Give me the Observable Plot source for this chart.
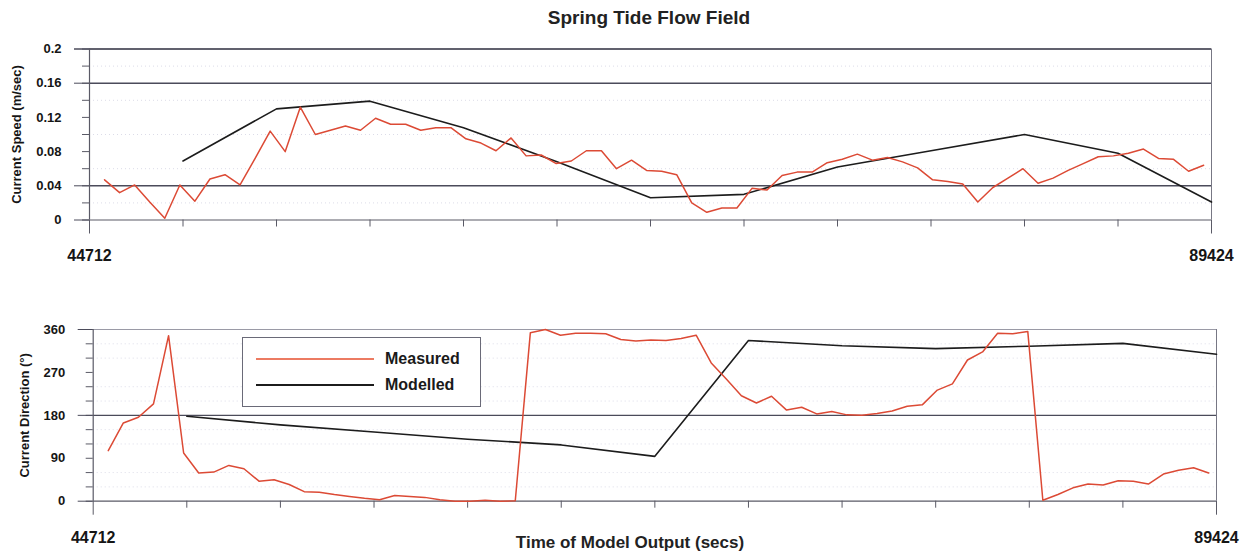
<!DOCTYPE html>
<html>
<head>
<meta charset="utf-8">
<script src="https://cdn.jsdelivr.net/npm/d3@7"></script>
<script src="https://cdn.jsdelivr.net/npm/@observablehq/plot@0.6"></script>
<style>
  body { margin: 0; background: #fff; font-family: "Liberation Sans", Arial, sans-serif; }
  #root { position: relative; width: 1251px; height: 556px; overflow: hidden; background: #fff; }
  .abs { position: absolute; }
  #title { left: 449px; width: 400px; top: 7px; text-align: center; font-weight: bold; font-size: 19px; line-height: 22px; color: #222; }
  #xtitle { left: 430px; width: 400px; top: 533px; text-align: center; font-weight: bold; font-size: 17px; line-height: 20px; color: #222; }
  #legend { left: 242px; top: 337px; width: 237px; height: 68px; border: 1px solid #6a6a78; background: #fff; }
  .lg-line { position: absolute; left: 13px; width: 118px; height: 0; }
  .lg-text { position: absolute; left: 142px; font-weight: bold; font-size: 16px; line-height: 18px; color: #1a1a1a; }
</style>
</head>
<body>
<div id="root">
  <div id="title" class="abs"></div>
  <div id="top" class="abs" style="left:0;top:30px;"></div>
  <div id="bottom" class="abs" style="left:0;top:310px;"></div>
  <div id="legend" class="abs"></div>
  <div id="xtitle" class="abs"></div>
</div>
<script>
// ---------- Text ----------
const chartTitle = "Spring Tide Flow Field";
const speedLabel = "Current Speed (m/sec)";
const directionLabel = "Current Direction (°)";
const timeLabel = "Time of Model Output (secs)";
const seriesNames = ["Measured", "Modelled"];
const seriesColors = ["#dc4a35", "#1c1c1c"];

// ---------- Time axis ----------
const timeStart = 44712;
const timeEnd = 89424;
const modelStep = 3726;     // model output interval (s)
const measuredStep = 600;   // measurement interval (s)
const timeTickLabels = [44712, 89424];

// ---------- Tick values ----------
const speedTickLabels = [0, 0.04, 0.08, 0.12, 0.16, 0.2];
const speedMinorTicks = [0.02, 0.06, 0.1, 0.14, 0.18];
const speedGrid = [0.04, 0.16, 0.2];
const directionTickLabels = [0, 90, 180, 270, 360];
const directionMinorTicks = [30, 60, 120, 150, 210, 240, 300, 330];
const directionGrid = [180];

// ---------- Data: measured (every 600 s, from 45312 s) ----------
const measuredSpeed = [
  0.047, 0.032, 0.041, 0.021, 0.002, 0.041, 0.022, 0.048, 0.053, 0.041,
  0.072, 0.104, 0.080, 0.132, 0.100, 0.105, 0.110, 0.105, 0.119, 0.112,
  0.112, 0.105, 0.108, 0.108, 0.095, 0.090, 0.081, 0.096, 0.075, 0.076,
  0.066, 0.069, 0.081, 0.081, 0.060, 0.070, 0.058, 0.057, 0.053, 0.020,
  0.009, 0.014, 0.014, 0.037, 0.035, 0.052, 0.056, 0.056, 0.067, 0.071,
  0.077, 0.070, 0.073, 0.068, 0.061, 0.047, 0.045, 0.042, 0.021, 0.038,
  0.049, 0.060, 0.043, 0.049, 0.058, 0.066, 0.074, 0.075, 0.078, 0.083,
  0.072, 0.071, 0.057, 0.064
];
const measuredDirection = [
  106, 164, 176, 204, 347, 101, 59, 61, 75, 68,
  42, 45, 35, 20, 19, 14, 10, 6, 3, 12,
  10, 8, 3, 0, 0, 2, 0, 1, 353, 360,
  348, 352, 352, 351, 339, 336, 338, 337, 341, 348,
  290, 256, 221, 206, 220, 191, 197, 183, 188, 181,
  180, 184, 189, 199, 202, 233, 246, 296, 313, 352,
  351, 356, 2, 14, 28, 36, 34, 43, 42, 36,
  57, 65, 70, 59
];

// ---------- Data: modelled (every 3726 s, from 48438 s) ----------
const modelledSpeed = [0.069, 0.130, 0.139, 0.108, 0.068, 0.026, 0.030, 0.062, 0.081, 0.100, 0.078, 0.021];
const modelledDirection = [178, 160, 145, 130, 118, 94, 337, 326, 320, 325, 331, 308];

// ---------- Build tables ----------
const measuredSpeedRows = measuredSpeed.map((v, i) => ({t: timeStart + (i + 1) * measuredStep, v}));
const measuredDirRows = measuredDirection.map((v, i) => ({t: timeStart + (i + 1) * measuredStep, v}));
const modelledSpeedRows = modelledSpeed.map((v, i) => ({t: timeStart + (i + 1) * modelStep, v}));
const modelledDirRows = modelledDirection.map((v, i) => ({t: timeStart + (i + 1) * modelStep, v}));
const innerTimeTicks = d3.range(1, 12).map(i => timeStart + i * modelStep);

const FONT = '"Liberation Sans", Arial, sans-serif';
const gridColor = "#4b4b5a";
const axisColor = "#5a5a66";

function panel({rows1, rows2, yDomain, yLabels, yMinor, yGrid, topRuleColor, label, labelDx,
                height, marginLeft, marginRight, marginTop, marginBottom, tickFmt}) {
  return Plot.plot({
    width: 1251, height, marginLeft, marginRight, marginTop, marginBottom,
    x: {domain: [timeStart, timeEnd], axis: null},
    y: {domain: yDomain, axis: null},
    style: {fontFamily: FONT, fontWeight: "bold", fontSize: "13px", color: "#151515", background: "transparent", overflow: "visible"},
    marks: [
      // faint dotted minor grid
      Plot.ruleY(yMinor, {stroke: "#dcdce8", strokeDasharray: "1,3"}),
      // top border line
      Plot.ruleY([yDomain[1]], {stroke: topRuleColor, strokeWidth: 1.2}),
      // dark major grid lines
      Plot.ruleY(yGrid, {stroke: gridColor, strokeWidth: 1.4}),
      // baseline
      Plot.ruleY([yDomain[0]], {stroke: axisColor, strokeWidth: 1.2}),
      // left axis + right border
      Plot.ruleX([timeStart], {stroke: axisColor, strokeWidth: 1.2}),
      Plot.ruleX([timeEnd], {stroke: "#777784", strokeWidth: 1}),
      // y ticks and labels
      Plot.axisY(yLabels, {label: null, tickSize: 7, tickPadding: 21, tickFormat: tickFmt, stroke: axisColor, fontSize: 13, fontWeight: "bold"}),
      Plot.axisY(yMinor, {label: null, tickSize: 7, tickFormat: () => "", stroke: axisColor}),
      Plot.axisY([yDomain[0], ...yGrid, yDomain[1]], {label: null, tickSize: 15, tickFormat: () => "", stroke: gridColor}),
      // x ticks
      Plot.axisX(innerTimeTicks, {label: null, tickSize: 7, tickFormat: () => "", stroke: axisColor}),
      Plot.axisX(timeTickLabels, {label: null, tickSize: 14, tickPadding: 16, tickFormat: d => String(d), stroke: axisColor, fontSize: 16, fontWeight: "bold"}),
      // y title
      Plot.text([label], {frameAnchor: "left", textAnchor: "middle", lineAnchor: "middle", dx: labelDx, rotate: -90, fontSize: 13, fontWeight: "bold", fill: "#151515"}),
      // data
      Plot.line(rows2, {x: "t", y: "v", stroke: seriesColors[1], strokeWidth: 1.6}),
      Plot.line(rows1, {x: "t", y: "v", stroke: seriesColors[0], strokeWidth: 1.5})
    ]
  });
}

document.getElementById("title").textContent = chartTitle;
document.getElementById("xtitle").textContent = timeLabel;

document.getElementById("top").append(panel({
  rows1: measuredSpeedRows, rows2: modelledSpeedRows,
  yDomain: [0, 0.2], yLabels: speedTickLabels, yMinor: speedMinorTicks, yGrid: speedGrid,
  topRuleColor: gridColor, label: speedLabel, labelDx: -73,
  height: 240, marginLeft: 89, marginRight: 40, marginTop: 18.5, marginBottom: 50.5,
  tickFmt: d => String(d)
}));

document.getElementById("bottom").append(panel({
  rows1: measuredDirRows, rows2: modelledDirRows,
  yDomain: [0, 360], yLabels: directionTickLabels, yMinor: directionMinorTicks, yGrid: directionGrid,
  topRuleColor: "#9a9aa6", label: directionLabel, labelDx: -68,
  height: 246, marginLeft: 92.7, marginRight: 35, marginTop: 19, marginBottom: 55.3,
  tickFmt: d => String(d)
}));

// legend
const legend = document.getElementById("legend");
seriesNames.forEach((name, i) => {
  const line = document.createElement("div");
  line.className = "lg-line";
  line.style.top = (20 + i * 26) + "px";
  line.style.borderTop = (i === 0 ? "2px solid #ec7b62" : "2px solid " + seriesColors[1]);
  legend.append(line);
  const txt = document.createElement("div");
  txt.className = "lg-text";
  txt.style.top = (12 + i * 26) + "px";
  txt.textContent = name;
  legend.append(txt);
});
</script>
</body>
</html>
